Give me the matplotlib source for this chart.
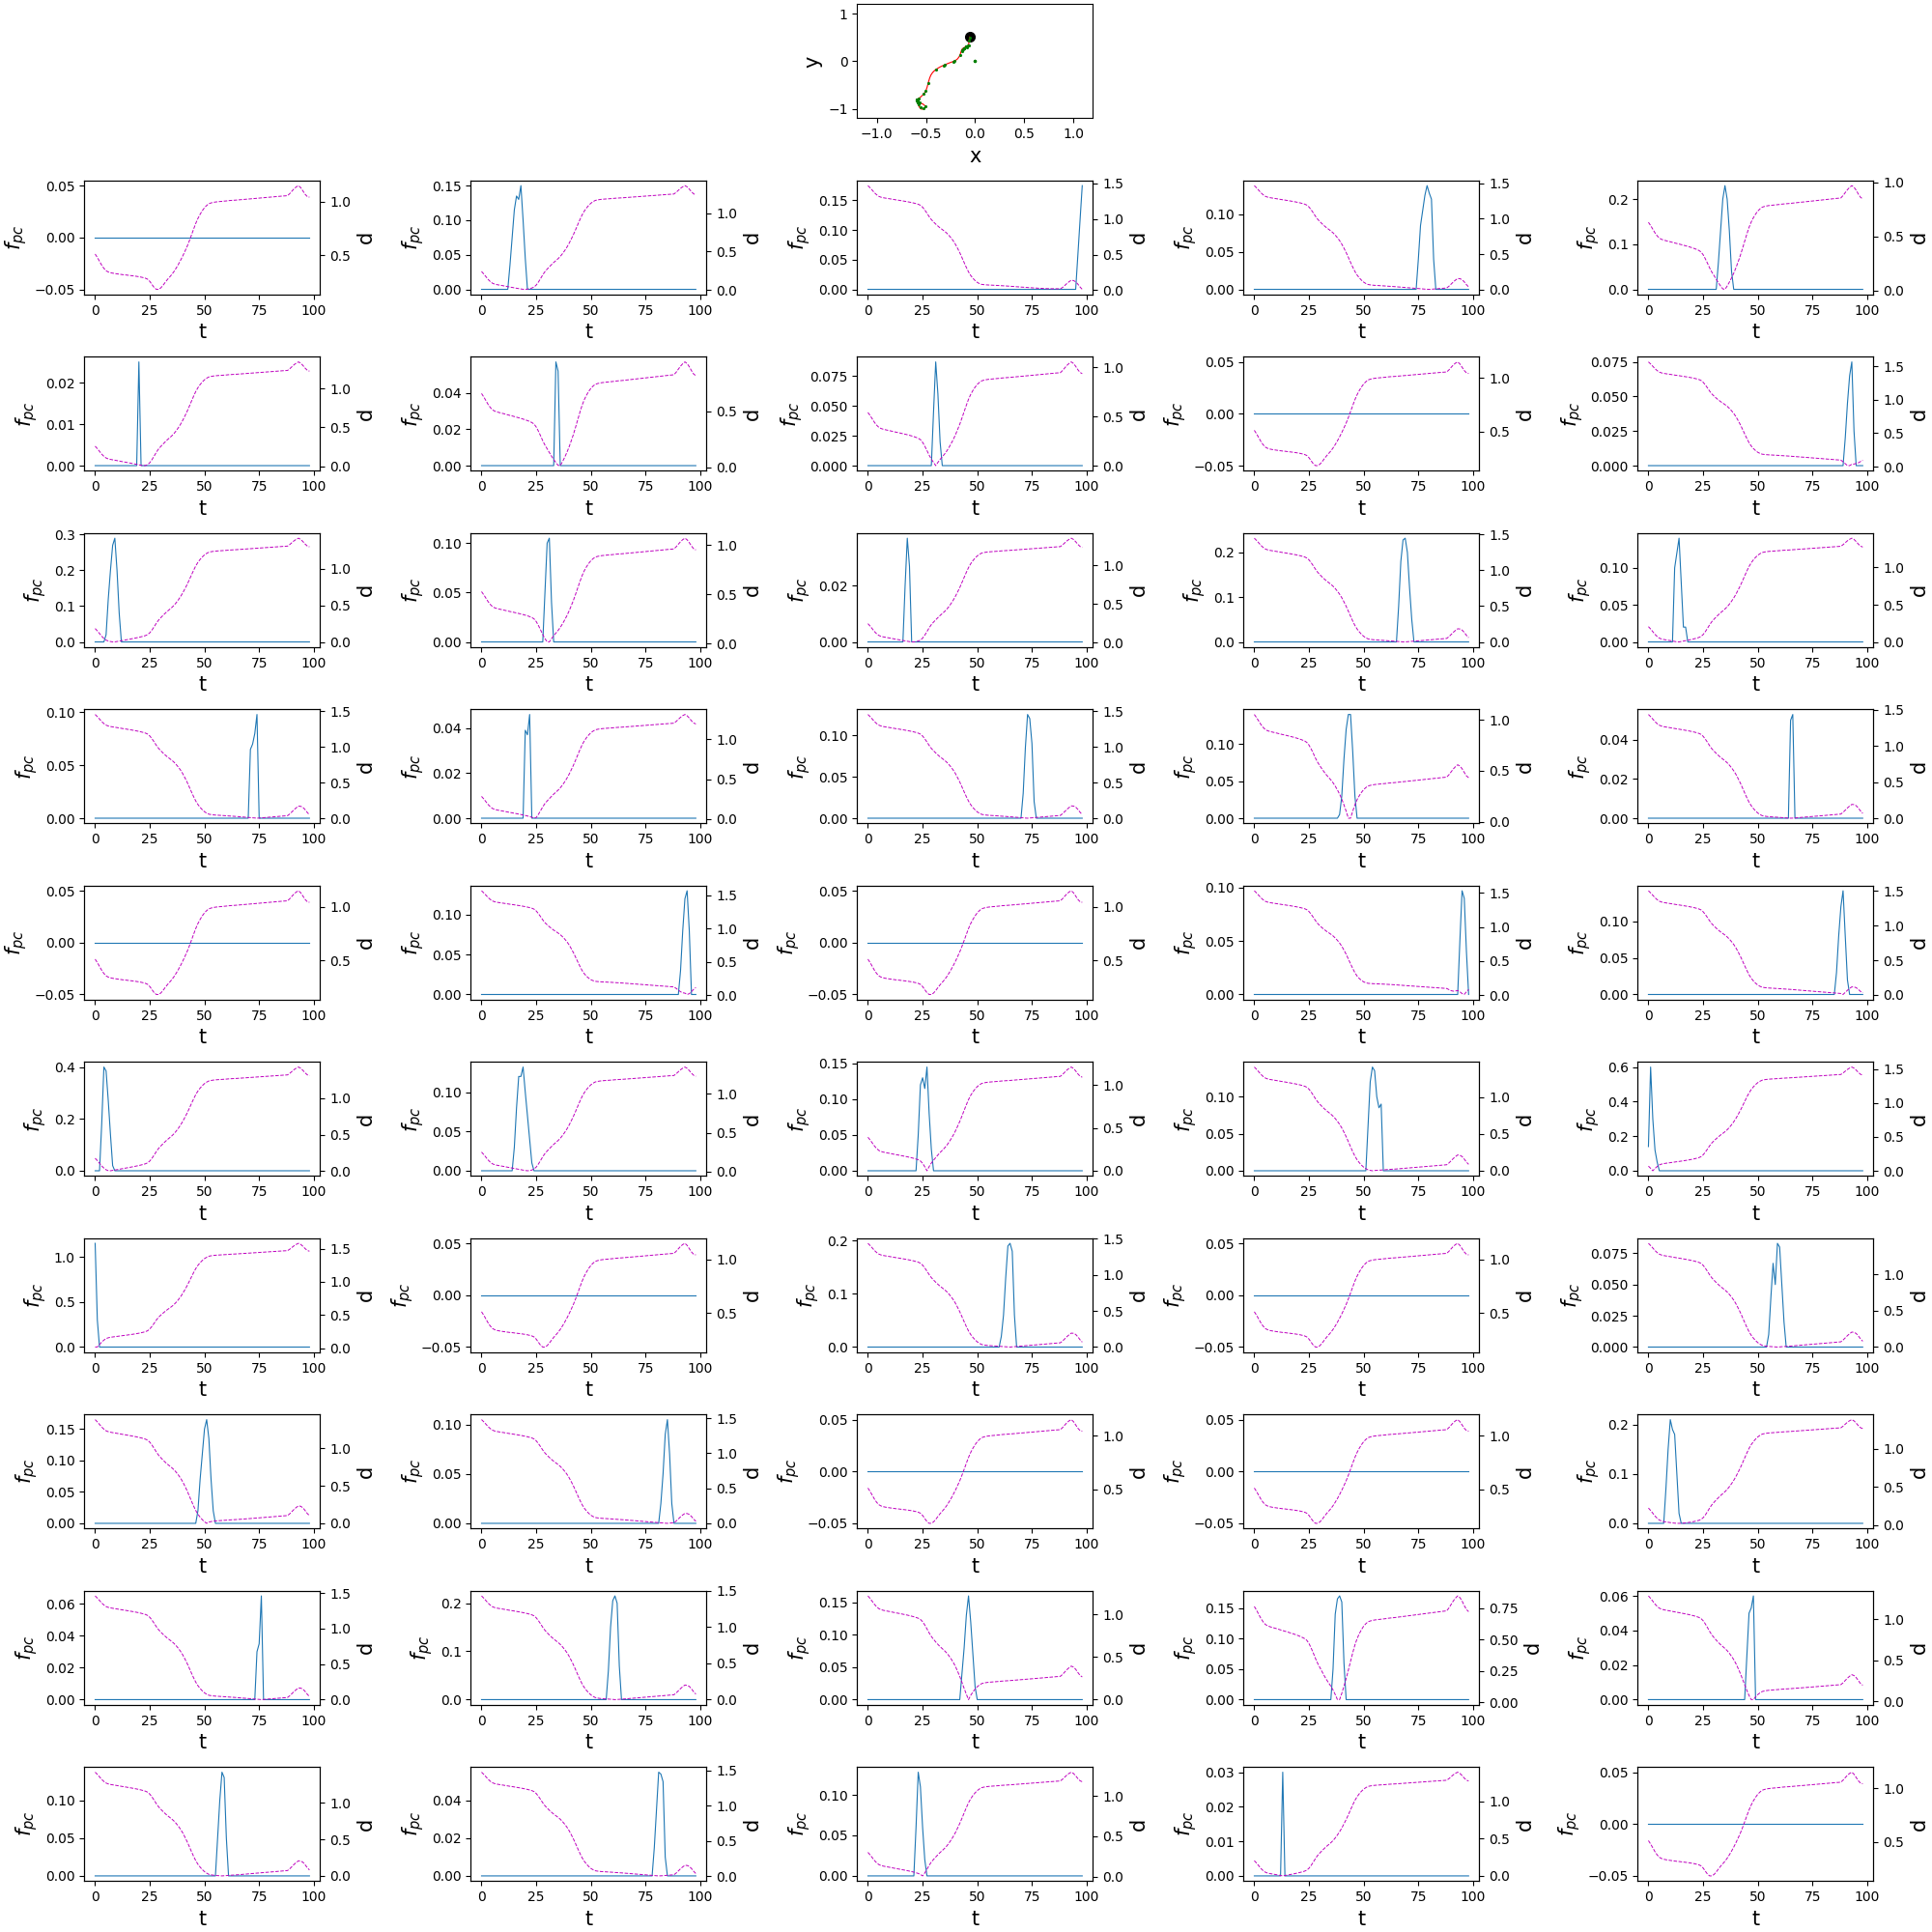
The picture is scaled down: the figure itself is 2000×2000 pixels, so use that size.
import matplotlib
matplotlib.use('Agg')
import matplotlib.pyplot as plt
import numpy as np

# trajectory of the agent, one point per step t = 0..98
traj_x = [-0.056, -0.058, -0.060, -0.062, -0.064, -0.066, -0.068, -0.070, -0.072, -0.075,
          -0.078, -0.082, -0.086, -0.090, -0.094, -0.098, -0.102, -0.106, -0.110, -0.114,
          -0.118, -0.122, -0.126, -0.130, -0.135, -0.140, -0.146, -0.153, -0.165, -0.180,
          -0.198, -0.222, -0.248, -0.272, -0.292, -0.312, -0.335, -0.360, -0.385, -0.410,
          -0.432, -0.450, -0.462, -0.472, -0.481, -0.490, -0.501, -0.515, -0.530, -0.545,
          -0.558, -0.570, -0.580, -0.585, -0.588, -0.590, -0.591, -0.592, -0.592, -0.593,
          -0.593, -0.594, -0.594, -0.594, -0.593, -0.593, -0.592, -0.592, -0.591, -0.591,
          -0.590, -0.590, -0.589, -0.589, -0.588, -0.588, -0.587, -0.587, -0.586, -0.586,
          -0.585, -0.585, -0.584, -0.584, -0.583, -0.583, -0.582, -0.581, -0.580, -0.578,
          -0.574, -0.567, -0.558, -0.545, -0.524, -0.506, -0.510, -0.530, -0.555]
traj_y = [0.510, 0.478, 0.442, 0.405, 0.375, 0.352, 0.340, 0.333, 0.328, 0.324,
          0.320, 0.316, 0.312, 0.308, 0.305, 0.301, 0.297, 0.293, 0.289, 0.284,
          0.279, 0.273, 0.266, 0.258, 0.245, 0.218, 0.178, 0.132, 0.085, 0.046,
          0.018, -0.005, -0.025, -0.044, -0.061, -0.079, -0.099, -0.125, -0.156, -0.192,
          -0.237, -0.292, -0.352, -0.420, -0.490, -0.558, -0.620, -0.668, -0.705, -0.735,
          -0.760, -0.777, -0.790, -0.795, -0.799, -0.802, -0.804, -0.806, -0.808, -0.810,
          -0.812, -0.815, -0.817, -0.819, -0.821, -0.823, -0.826, -0.828, -0.831, -0.833,
          -0.836, -0.838, -0.841, -0.843, -0.846, -0.848, -0.851, -0.853, -0.856, -0.858,
          -0.861, -0.863, -0.866, -0.868, -0.871, -0.873, -0.876, -0.878, -0.881, -0.905,
          -0.935, -0.965, -0.990, -1.010, -1.000, -0.975, -0.938, -0.902, -0.880]

# place cell centres (50 cells)
pc_x = [0.0, -0.110, -0.562, -0.584, -0.305, -0.120, -0.320, -0.222, 0.0, -0.554,
        -0.073, -0.210, -0.112, -0.591, -0.092, -0.588, -0.130, -0.589, -0.476, -0.593,
        0.0, -0.522, 0.0, -0.508, -0.578, -0.067, -0.116, -0.153, -0.588, -0.060,
        -0.058, 0.0, -0.593, 0.0, -0.593, -0.570, -0.583, 0.0, 0.0, -0.080,
        -0.587, -0.594, -0.501, -0.398, -0.522, -0.592, -0.585, -0.133, -0.090, 0.0]
pc_y = [0.0, 0.275, -0.870, -0.860, -0.070, 0.260, -0.095, -0.005, 0.0, -0.975,
        0.326, 0.006, 0.270, -0.832, 0.306, -0.846, 0.235, -0.843, -0.455, -0.824,
        0.0, -0.990, 0.0, -0.950, -0.900, 0.335, 0.268, 0.132, -0.799, 0.440,
        0.495, 0.0, -0.823, 0.0, -0.810, -0.777, -0.873, 0.0, 0.0, 0.290,
        -0.851, -0.815, -0.620, -0.174, -0.687, -0.808, -0.864, 0.220, 0.308, 0.0]

# f_pc of each cell: first step of the listed values, zero elsewhere
fpc_t0 = [0, 12, 95, 74, 31, 19, 33, 29, 0, 89,
          4, 28, 16, 65, 11, 70, 19, 70, 38, 64,
          0, 90, 0, 93, 85, 2, 14, 22, 51, 0,
          0, 0, 60, 0, 54, 46, 81, 0, 0, 7,
          73, 57, 42, 35, 44, 55, 78, 21, 12, 0]
fpc_vals = [
    [], [0, 0.035, 0.075, 0.115, 0.135, 0.13, 0.15, 0.1, 0.045, 0],
    [0, 0.058, 0.117, 0.175],
    [0, 0.04, 0.085, 0.105, 0.125, 0.138, 0.128, 0.12, 0.04, 0],
    [0, 0.06, 0.13, 0.2, 0.23, 0.2, 0.13, 0.04, 0],
    [0, 0.025, 0],
    [0, 0.057, 0.052, 0],
    [0, 0.045, 0.087, 0.06, 0.02, 0],
    [],
    [0, 0.02, 0.045, 0.065, 0.075, 0.025, 0],
    [0, 0.02, 0.12, 0.2, 0.27, 0.29, 0.2, 0.08, 0],
    [0, 0.05, 0.1, 0.105, 0.04, 0],
    [0, 0.02, 0.037, 0.027, 0],
    [0, 0.08, 0.18, 0.228, 0.232, 0.2, 0.12, 0.05, 0],
    [0, 0.1, 0.12, 0.14, 0.08, 0.02, 0.02, 0],
    [0, 0.065, 0.07, 0.08, 0.098, 0],
    [0, 0.039, 0.037, 0.046, 0],
    [0, 0.03, 0.085, 0.125, 0.12, 0.09, 0.02, 0],
    [0, 0.005, 0.03, 0.08, 0.12, 0.14, 0.14, 0.09, 0.03, 0],
    [0, 0.05, 0.053, 0],
    [],
    [0, 0.03, 0.08, 0.12, 0.13, 0.08, 0],
    [],
    [0, 0.05, 0.097, 0.09, 0.04, 0],
    [0, 0.03, 0.08, 0.12, 0.142, 0.08, 0.02, 0],
    [0, 0.18, 0.4, 0.385, 0.27, 0.14, 0.02, 0],
    [0, 0.03, 0.08, 0.12, 0.12, 0.132, 0.1, 0.07, 0.04, 0.01, 0],
    [0, 0.05, 0.12, 0.13, 0.115, 0.145, 0.08, 0.03, 0],
    [0, 0.06, 0.12, 0.14, 0.135, 0.1, 0.085, 0.09, 0],
    [0.14, 0.6, 0.3, 0.12, 0.05, 0],
    [1.15, 0.3, 0],
    [],
    [0, 0.02, 0.06, 0.13, 0.19, 0.195, 0.18, 0.06, 0],
    [],
    [0, 0.01, 0.04, 0.067, 0.05, 0.083, 0.08, 0.05, 0.02, 0],
    [0, 0.02, 0.07, 0.11, 0.15, 0.165, 0.135, 0.07, 0.02, 0],
    [0, 0.02, 0.05, 0.09, 0.105, 0.07, 0.02, 0],
    [],
    [],
    [0, 0.07, 0.15, 0.21, 0.19, 0.18, 0.1, 0.02, 0],
    [0, 0.03, 0.035, 0.065, 0],
    [0, 0.06, 0.15, 0.205, 0.215, 0.2, 0.07, 0],
    [0, 0.04, 0.08, 0.13, 0.16, 0.12, 0.07, 0.02, 0],
    [0, 0.05, 0.14, 0.165, 0.17, 0.16, 0.06, 0],
    [0, 0.025, 0.05, 0.053, 0.06, 0],
    [0, 0.05, 0.1, 0.137, 0.13, 0.05, 0],
    [0, 0.015, 0.035, 0.055, 0.054, 0.05, 0.01, 0],
    [0, 0.06, 0.128, 0.11, 0.06, 0.02, 0],
    [0, 0.03, 0],
    [],
]

t = np.arange(len(traj_x))
tx = np.array(traj_x)
ty = np.array(traj_y)

fig = plt.figure(figsize=(20, 20), dpi=100)
gs = fig.add_gridspec(11, 5, left=0.0437, right=0.9657, top=0.99785, bottom=0.02635,
                      hspace=0.545, wspace=0.639)

# trajectory and place cell centres
ax0 = fig.add_subplot(gs[0, 2])
ax0.plot(traj_x[0], traj_y[0], 'ko', ms=7)
ax0.plot(traj_x, traj_y, 'r-', lw=0.8)
ax0.plot(pc_x, pc_y, 'g.', ms=2.5)
ax0.set_xlim(-1.2, 1.2)
ax0.set_ylim(-1.2, 1.2)
ax0.set_xlabel('x', fontsize=15)
ax0.set_ylabel('y', fontsize=15)

for i in range(50):
    r, c = divmod(i, 5)
    ax = fig.add_subplot(gs[r + 1, c])
    f = np.zeros(len(t))
    v = fpc_vals[i]
    f[fpc_t0[i]:fpc_t0[i] + len(v)] = v
    ax.plot(t, f, lw=0.8)
    ax.set_xlabel('t', fontsize=15)
    ax.set_ylabel(r'$f_{pc}$', fontsize=15)
    ax2 = ax.twinx()
    d = np.hypot(tx - pc_x[i], ty - pc_y[i])
    ax2.plot(t, d, 'm--', lw=0.7)
    ax2.set_ylabel('d', fontsize=15)
    if c == 4:
        # last column sits a little further right; twins follow ax
        p = ax.get_position()
        ax.set_position([p.x0 + 0.004, p.y0, p.width, p.height])

fig.savefig('out.png', dpi=100)
